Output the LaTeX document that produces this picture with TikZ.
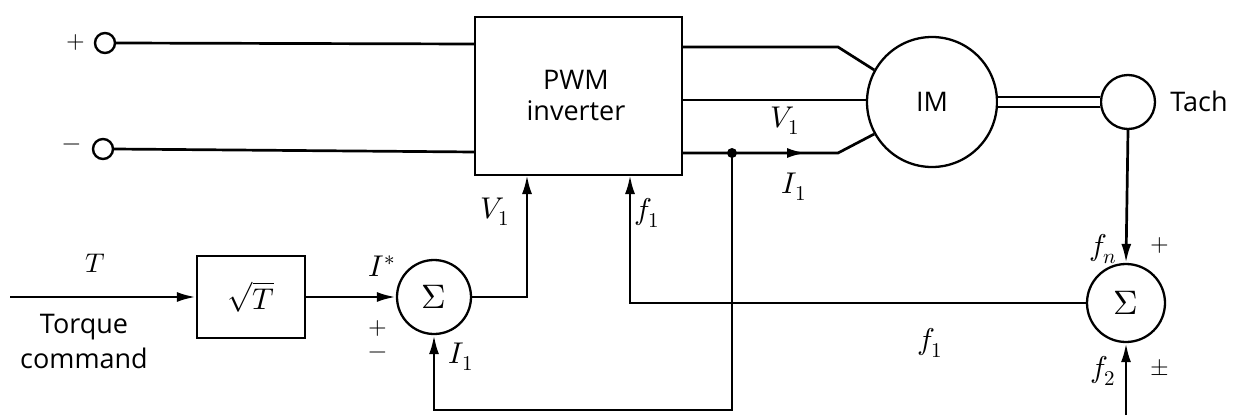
\documentclass[tikz,border=0pt]{standalone}
\usepackage{fontspec}
\usepackage{unicode-math}
\setmathfont{Latin Modern Math}
\newfontfamily\labfont{Open Sans}
\usetikzlibrary{arrows.meta}
\begin{document}
\begin{tikzpicture}[x=1pt,y=-1pt,
  line width=2.7pt,
  arr/.style={-{Latex[length=19pt,width=10pt]}},
  term/.style={circle,draw,line width=2.4pt,minimum size=20pt,inner sep=0pt},
  blk/.style={draw,line width=2.3pt,inner sep=0pt},
  sumn/.style={circle,draw,line width=2.3pt,inner sep=0pt,font=\fontsize{34}{38}\selectfont},
  lbl/.style={inner sep=0pt,font=\fontsize{30}{34}\selectfont},
  sml/.style={inner sep=0pt,font=\fontsize{24}{28}\selectfont},
  sf/.style={inner sep=0pt,font=\labfont\fontsize{27}{31}\selectfont}]
\useasboundingbox (0,0) rectangle (1236,415);
% nodes
\node[term] (tp) at (105,43) {};
\node[term] (tm) at (103,149) {};
\node[blk,minimum width=207pt,minimum height=158pt] (pwm) at (578.5,96) {};
\node[sf] (pwmt1) at (576,80) {PWM};
\node[sf] (pwmt2) at (576,111) {inverter};
\node[circle,draw,line width=2.3pt,minimum size=130pt,inner sep=0pt,font=\labfont\fontsize{27}{31}\selectfont] (im) at (932,102) {IM};
\node[circle,draw,line width=2.3pt,minimum size=54pt,inner sep=0pt] (tach) at (1128,102) {};
\node[sumn,minimum size=78pt] (sum2) at (1126,303) {$\Sigma$};
\node[sumn,minimum size=74pt] (sum1) at (434,297) {$\Sigma$};
\node[blk,minimum width=108pt,minimum height=82pt,font=\fontsize{30}{34}\selectfont] (sq) at (251,297) {$\sqrt{T}$};
% coordinates
\coordinate (tpin) at (475,44);
\coordinate (tmin) at (475,152);
\coordinate (o1a) at (682,47);
\coordinate (o1b) at (838,47);
\coordinate (o2a) at (682,100);
\coordinate (o3a) at (682,153);
\coordinate (o3b) at (838,153);
\coordinate (j) at (732,153);
\coordinate (arA) at (770,153);
\coordinate (arB) at (806,153);
\coordinate (fin) at (630,175);
\coordinate (vin) at (527,175);
\coordinate (fbc) at (434,410);
\coordinate (tin) at (10,297);
\coordinate (f2in) at (1126,415);
% connectors
\draw (tp.east) -- (tpin);
\draw (tm.east) -- (tmin);
\draw (o1a) -- (o1b) -- (im.151);
\draw (o2a) -- (im.west |- o2a);
\draw (o3a) -- (o3b) -- (im.209);
\draw[arr] (arA) -- (arB);
\fill (j) circle (5pt);
\draw[double distance=8pt,line width=2.4pt] (im.east) -- (tach.west);
\draw[arr] (tach.south) -- (sum2.north);
\draw[arr] (f2in) -- (sum2.south);
\draw[arr] (sum2.west) -| (fin);
\draw[arr] (sum1.east) -| (vin);
\draw[arr] (j) |- (fbc) -- (sum1.south);
\draw[arr] (tin) -- (sq.west);
\draw[arr] (sq.east) -- (sum1.west);
% labels
\node[sml] (lp) at (76,42) {$+$};
\node[sml] (lm) at (72,147) {$-$};
\node[lbl] (lv1a) at (785,121) {$V_1$};
\node[lbl] (li1a) at (794,187) {$I_1$};
\node[lbl] (lv1b) at (495,212) {$V_1$};
\node[lbl] (lf1a) at (647,213) {$f_1$};
\node[lbl] (lis) at (382,266) {$I^{\ast}$};
\node[sml] (lp1) at (378,328) {$+$};
\node[sml] (lm1) at (378,355) {$-$};
\node[lbl] (li1b) at (461,357) {$I_1$};
\node[lbl,font=\fontsize{27}{31}\selectfont] (lT) at (95,263) {$T$};
\node[sf] (ltq) at (84,327) {Torque};
\node[sf] (lcm) at (84,358) {command};
\node[lbl] (lfn) at (1103,249) {$f_n$};
\node[sml] (lp2) at (1160,245) {$+$};
\node[lbl] (lf2) at (1103,371) {$f_2$};
\node[sml] (lpm) at (1160,368) {$\pm$};
\node[lbl] (lf1b) at (930,343) {$f_1$};
\node[sf] (ltach) at (1199,101) {Tach};
\end{tikzpicture}
\end{document}
